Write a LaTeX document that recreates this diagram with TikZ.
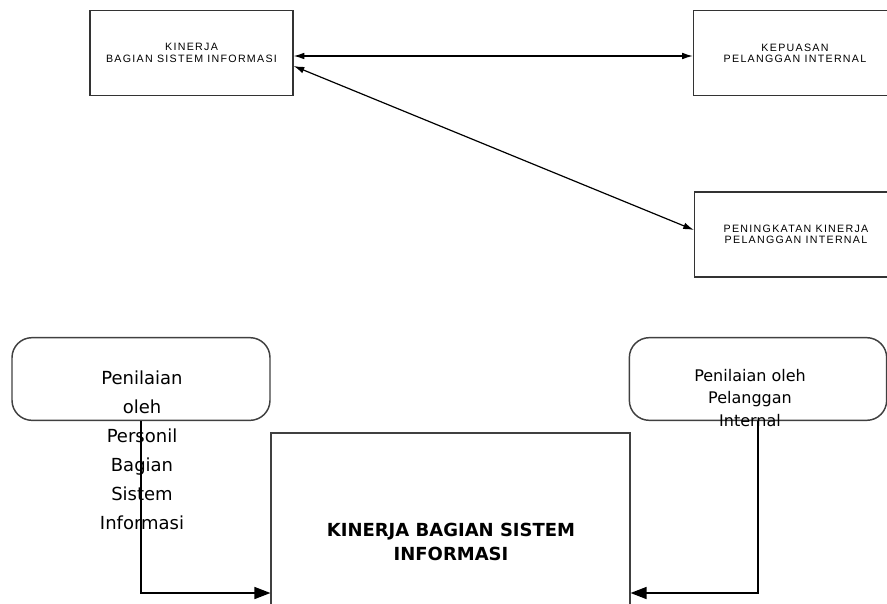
\documentclass[tikz,border=0pt]{standalone}
\usepackage{fontspec}
\setmainfont{DejaVu Sans}
\newfontfamily\kecilfont[LetterSpace=12]{Liberation Sans}
\usetikzlibrary{arrows.meta}

\tikzset{
	kotakkecil/.style={draw=black!80, line width=1.2pt, minimum width=152pt, minimum height=64pt, align=center, font=\kecilfont\fontsize{8pt}{8.5pt}\selectfont},
	kotakbulat/.style={draw=black!75, line width=1.1pt, rounded corners=15pt, minimum height=62pt},
	panahkecil/.style={line width=0.9pt, {Latex[length=8pt,width=5pt]}-{Latex[length=8pt,width=5pt]}},
	panahbesar/.style={line width=1.1pt, -{Triangle[length=12pt,width=9pt]}}
}

\begin{document}
\begin{tikzpicture}[x=0.75pt,y=0.75pt,yscale=-1,xscale=1]
		\useasboundingbox (0,0) rectangle (887,603);
		\clip (0,0) rectangle (887,603);
		
		%Top boxes
		\node[kotakkecil] (kinerjaSI) at (191.5,53) {KINERJA\\BAGIAN SISTEM INFORMASI};
		\node[kotakkecil] (kepuasan) at (795,53) {KEPUASAN\\PELANGGAN INTERNAL};
		\node[kotakkecil] (peningkatan) at (796,234.5) {PENINGKATAN KINERJA\\PELANGGAN INTERNAL};
		
		%Straight Lines
		\draw[panahkecil] (kinerjaSI.east |- 0,56) -- (kepuasan.west |- 0,56);
		\draw[panahkecil] ([yshift=9.75pt]kinerjaSI.east) -- ([yshift=-3.4pt]peningkatan.west);
		
		%Rounded boxes
		\node[kotakbulat, minimum width=193.5pt] (nilaiPersonil) at (141,379) {};
		\node[kotakbulat, minimum width=193pt] (nilaiPelanggan) at (758,379) {};
		
		%Big box (runs past the bottom edge)
		\node[draw=black!75, line width=1.1pt, minimum width=269pt, minimum height=240pt] (kinerjaBesar) at (450.5,593) {};
		
		%Connectors
		\draw[panahbesar] (nilaiPersonil.south) |- (kinerjaBesar.west);
		\draw[panahbesar] (nilaiPelanggan.south) |- (kinerjaBesar.east);
		
		% Text Node
		\node[align=center, font=\fontsize{13.5pt}{21.75pt}\selectfont] (teksPersonil) at (142,450) {Penilaian\\oleh\\Personil\\Bagian\\Sistem\\Informasi};
		% Text Node
		\node[align=center, font=\fontsize{12pt}{17pt}\selectfont] (teksPelanggan) at (750,398) {Penilaian oleh\\Pelanggan\\Internal};
		% Text Node
		\node[align=center, font=\bfseries\fontsize{13.5pt}{18.5pt}\selectfont] (teksBesar) at (451,542) {KINERJA BAGIAN SISTEM\\INFORMASI};
		
\end{tikzpicture}
\end{document}
